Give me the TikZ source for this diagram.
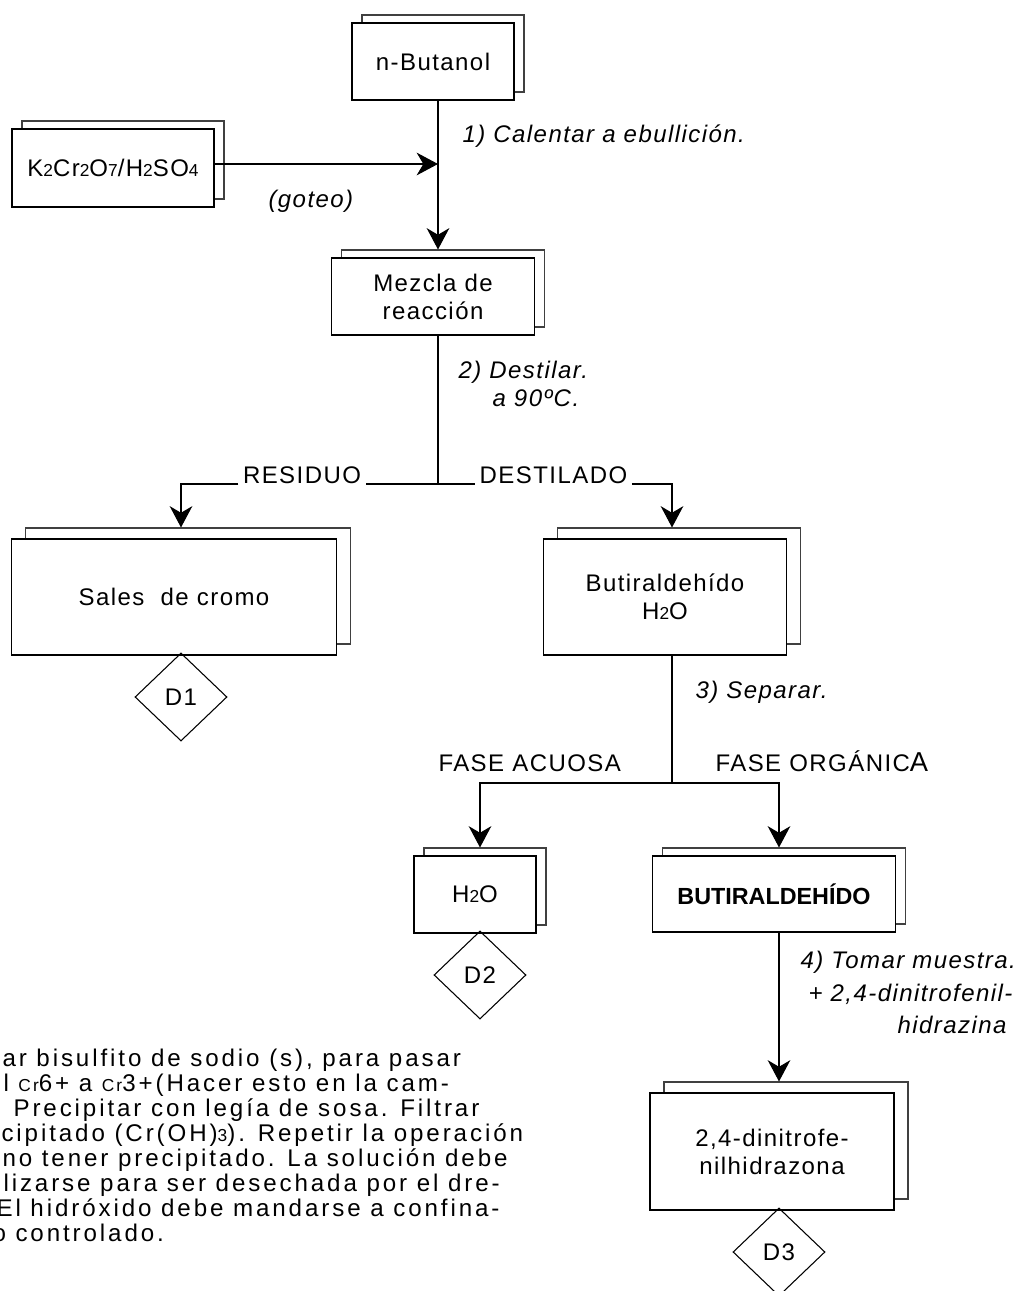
\documentclass[tikz,border=0pt]{standalone}
\usepackage{fontspec}
\setmainfont{Liberation Sans}
\newfontfamily\lsfont[LetterSpace=6]{Liberation Sans}
\newfontfamily\blockfont[LetterSpace=12]{Liberation Sans}
\usetikzlibrary{positioning,calc,shapes.geometric,shadows,arrows.meta}
\newcommand{\dn}[1]{{\fontsize{13}{13}\selectfont #1}}

\tikzset{
  lbl/.style={font=\lsfont\fontsize{18}{21}\selectfont, inner sep=0pt},
  note/.style={lbl, font=\lsfont\fontsize{18}{21}\selectfont\itshape},
  block/.style={font=\blockfont\fontsize{18.1}{18.75}\selectfont, inner sep=0pt, anchor=base west},
  box/.style={lbl, draw, fill=white, align=center, inner sep=2pt,
    copy shadow={shadow xshift=7.5pt, shadow yshift=6pt, draw=black!75}},
  bigbox/.style={lbl, draw, fill=white, align=center, inner sep=2pt,
    copy shadow={shadow xshift=10.5pt, shadow yshift=8.25pt, draw=black!75}},
  disp/.style={lbl, diamond, draw, minimum width=69pt, minimum height=66pt, inner sep=0pt},
  flow/.style={-{Stealth[length=16pt,width=17pt,inset=5pt]}}
}

\begin{document}
\begin{tikzpicture}[x=0.75pt, y=-0.75pt, line width=0.8pt]
    \useasboundingbox (0,0) rectangle (1022,1291);

    % boxes
    \node[box, minimum width=121.5pt, minimum height=57.75pt] (nbut) at (433,61.5) {n-Butanol};
    \node[box, minimum width=151.5pt, minimum height=58.5pt] (k2) at (113,168) {K\dn{2}Cr\dn{2}O\dn{7}/H\dn{2}SO\dn{4}};
    \node[box, minimum width=152.25pt, minimum height=57.75pt] (mezcla) at (433,296.5) {Mezcla de\\reacción};
    \node[bigbox, minimum width=243.75pt, minimum height=87pt] (sales) at (174,597) {Sales\ \ de cromo};
    \node[bigbox, minimum width=182.25pt, minimum height=87pt] (butir) at (665,597) {Butiraldehído\\H\dn{2}O};
    \node[box, minimum width=91.5pt, minimum height=57.75pt] (agua) at (475,894.5) {H\dn{2}O};
    \node[box, minimum width=182.25pt, minimum height=57pt, font=\normalfont\fontsize{17.5}{21}\selectfont\bfseries] (but) at (774,894) {BUTIRALDEHÍDO};
    \node[bigbox, minimum width=183pt, minimum height=87.75pt] (dnfh) at (772,1151.5) {2,4-dinitrofe-\\nilhidrazona};

    \node[disp] (d1) at (181,697) {D1};
    \node[disp] (d2) at (480,975) {D2};
    \node[disp] (d3) at (779,1252) {D3};

    % junctions
    \coordinate (j1) at (438,164);
    \coordinate (j2) at (438,484);
    \coordinate (j3) at (672,783);

    \node[lbl, anchor=base, inner xsep=3pt, inner ysep=2pt, fill=white] (res) at (302,483) {RESIDUO};
    \node[lbl, anchor=base, inner xsep=3pt, inner ysep=2pt, fill=white] (des) at (553.5,483) {DESTILADO};

    % connectors
    \draw (nbut.south -| j1) -- (j1);
    \draw[flow, shorten >=6pt] (j1) -- (mezcla.north -| j1);
    \draw[flow] (k2.east |- j1) -- (j1);
    \draw (mezcla.south -| j2) -- (j2);
    \draw (j2) -- (j2 -| res.east);
    \draw[flow, shorten >=8.25pt] (j2 -| res.west) -| ([xshift=5.25pt]sales.north);
    \draw (j2) -- (j2 -| des.west);
    \draw[flow, shorten >=8.25pt] (j2 -| des.east) -| ([xshift=5.25pt]butir.north);
    \draw ([xshift=5.25pt]butir.south) -- (j3);
    \draw[flow, shorten >=6pt] (j3) -| ([xshift=3.75pt]agua.north);
    \draw[flow, shorten >=6pt] (j3) -| ([xshift=3.75pt]but.north);
    \draw[flow, shorten >=8.25pt] ([xshift=3.75pt]but.south) -- ([xshift=5.25pt]dnfh.north);

    % step labels
    \node[note, anchor=base west] (p1) at (462,143) {1) Calentar a ebullición.};
    \node[note, anchor=base west] (got) at (268,208) {(goteo)};
    \node[note, anchor=base west] (p2) at (458,378) {2) Destilar.};
    \node[note, anchor=base west] (p2b) at (492,406) {a 90ºC.};
    \node[note, anchor=base west] (p3) at (695,698) {3) Separar.};
    \node[note, anchor=base west] (p4) at (800,968) {4) Tomar muestra.};
    \node[note, anchor=base west] (p4b) at (808,1001) {+ 2,4-dinitrofenil-};
    \node[note, anchor=base west] (p4c) at (897,1033) {hidrazina};
    \node[lbl, anchor=base west] (acu) at (438,771) {FASE ACUOSA};
    \node[lbl, anchor=base west] (org) at (715,771) {FASE ORGÁNIC{\fontsize{20.5}{21}\selectfont A}};

    % disposal note
    \node[block] (t1) at (2,1066) {ar bisulfito de sodio (s), para pasar};
    \node[block] (t2) at (3,1091) {l \dn{Cr}6+ a \dn{Cr}3+(Hacer esto en la cam-};
    \node[block] (t3) at (13,1116) {Precipitar con legía de sosa. Filtrar};
    \node[block] (t4) at (1,1141) {cipitado (Cr(OH)\dn{3}). Repetir la operación};
    \node[block] (t5) at (2,1166) {no tener precipitado. La solución debe};
    \node[block] (t6) at (3,1191) {lizarse para ser desechada por el dre-};
    \node[block] (t7) at (-4,1216) {El hidróxido debe mandarse a confina-};
    \node[block] (t8) at (-8,1241) {o controlado.};
\end{tikzpicture}
\end{document}
